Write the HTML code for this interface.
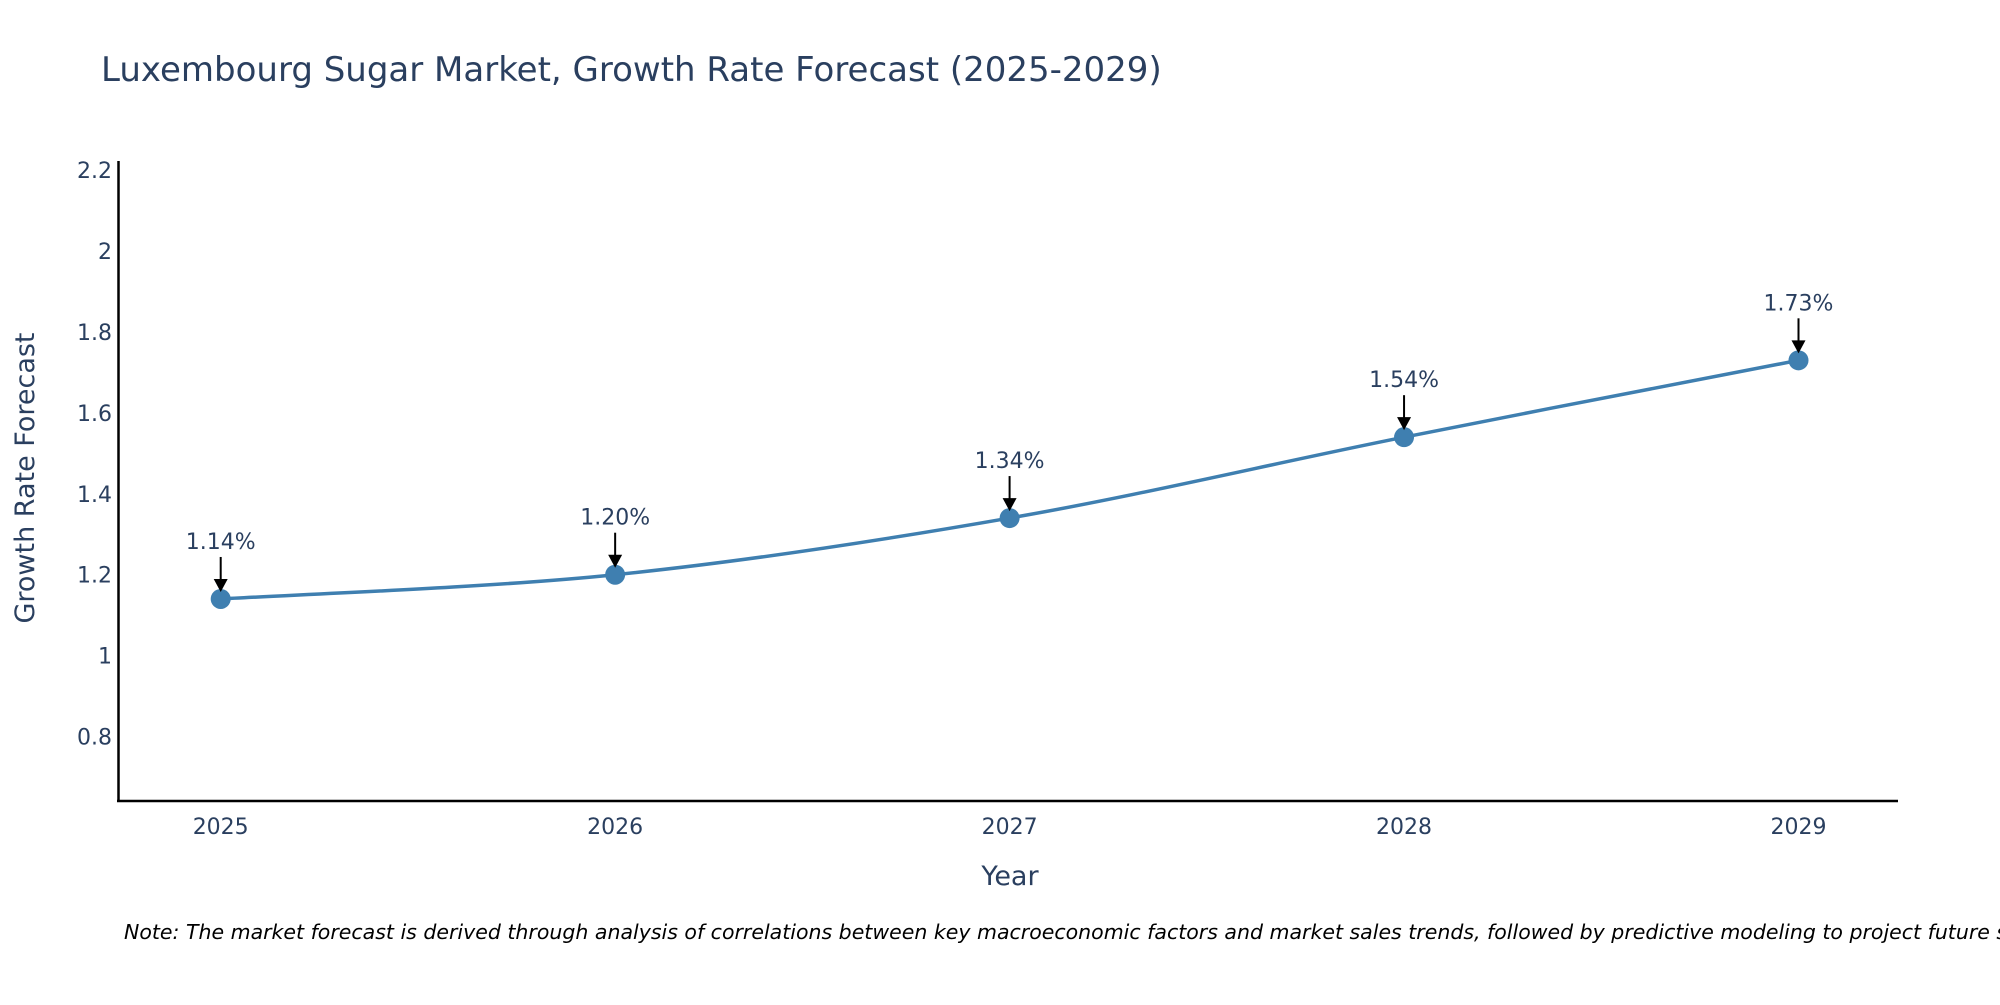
<!DOCTYPE html>
<html><head><meta charset="utf-8"><style>
body{margin:0;background:#fff;}
svg text{font-family:"DejaVu Sans","Liberation Sans",sans-serif;fill:#2a3f5f;}
</style></head><body>
<svg id="chart" width="2000" height="1000" xmlns="http://www.w3.org/2000/svg">
<text x="101" y="81" font-size="34">Luxembourg Sugar Market, Growth Rate Forecast (2025-2029)</text>
<g id="yticks"></g><g id="xticks"></g>
<line x1="118.5" y1="161" x2="118.5" y2="802" stroke="#000" stroke-width="2.5"/>
<line x1="117" y1="801" x2="1898" y2="801" stroke="#000" stroke-width="2.5"/>
<text transform="translate(34,478) rotate(-90)" text-anchor="middle" font-size="27">Growth Rate Forecast</text>
<text x="1010" y="885" text-anchor="middle" font-size="27">Year</text>
<g id="series"></g>
<text x="124" y="939" font-size="20.5" font-style="italic" style="fill:#000">Note: The market forecast is derived through analysis of correlations between key macroeconomic factors and market sales trends, followed by predictive modeling to project future sales.</text>
</svg>
<script>
const years=[2025,2026,2027,2028,2029];
const values=[1.14,1.20,1.34,1.54,1.73];
const labels=["1.14%","1.20%","1.34%","1.54%","1.73%"];
const yTicks=[0.8,1,1.2,1.4,1.6,1.8,2,2.2];
const yTickLabels=["0.8","1","1.2","1.4","1.6","1.8","2","2.2"];
const NS="http://www.w3.org/2000/svg";
function xs(v){return 220.7+(v-2025)*394.45;}
function ys(v){return 655.6-(v-1)*404.5;}
function mk(tag,attrs,parent){const e=document.createElementNS(NS,tag);for(const k in attrs)e.setAttribute(k,attrs[k]);parent.appendChild(e);return e;}
const yg=document.getElementById('yticks');
yTicks.forEach((t,i)=>{const e=mk('text',{x:112,y:ys(t)+8,'text-anchor':'end','font-size':22},yg);


e.textContent=yTickLabels[i];});
const xg=document.getElementById('xticks');
years.forEach(y=>{const e=mk('text',{x:xs(y),y:834,'text-anchor':'middle','font-size':22},xg);


e.textContent=y;});
const sg=document.getElementById('series');
const P=years.map((y,i)=>[xs(y),ys(values[i])]);
let d="M"+P[0][0]+","+P[0][1];
for(let i=0;i<P.length-1;i++){const p0=P[Math.max(i-1,0)],p1=P[i],p2=P[i+1],p3=P[Math.min(i+2,P.length-1)];const s=6;
d+=` C${p1[0]+(p2[0]-p0[0])/s},${p1[1]+(p2[1]-p0[1])/s} ${p2[0]-(p3[0]-p1[0])/s},${p2[1]-(p3[1]-p1[1])/s} ${p2[0]},${p2[1]}`;}
const line=mk('path',{d:d,fill:'none',stroke:'#3f7fb0','stroke-width':3.5},sg);


P.forEach((p,i)=>{
const c=mk('circle',{cx:p[0],cy:p[1],r:10,fill:'#3f7fb0'},sg);


const a=mk('line',{x1:p[0],y1:p[1]-42,x2:p[0],y2:p[1]-18,stroke:'#000','stroke-width':2},sg);


const h=mk('polygon',{points:`${p[0]-7},${p[1]-20} ${p[0]+7},${p[1]-20} ${p[0]},${p[1]-7}`,fill:'#000'},sg);


const t=mk('text',{x:p[0],y:p[1]-50,'text-anchor':'middle','font-size':22},sg);


t.textContent=labels[i];});
</script>
</body></html>
